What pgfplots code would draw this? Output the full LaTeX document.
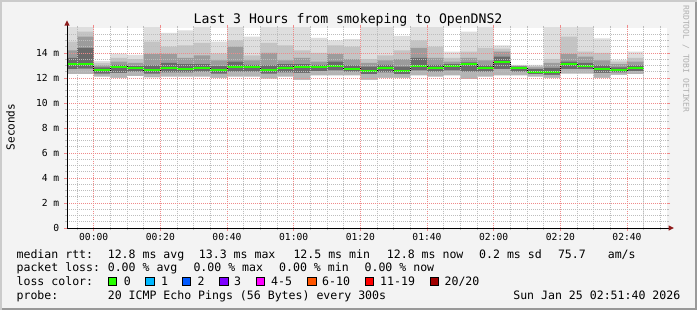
\documentclass[border=0pt]{standalone}
\usepackage{fontspec}
\usepackage{pgfplots}
\pgfplotsset{compat=1.18}
\usepackage{pgfplotstable}
\newfontfamily\mono{DejaVu Sans Mono}
\definecolor{canvas}{HTML}{F3F3F3}
\definecolor{shadeA}{HTML}{CBCBCB}
\definecolor{shadeB}{HTML}{999999}
\definecolor{arrowc}{HTML}{8E1B1B}
\definecolor{mgrid}{HTML}{F08A8A}
\definecolor{ngrid}{HTML}{BDBDBD}
\definecolor{sA}{HTML}{DEDEDE}
\definecolor{sB}{HTML}{C4C4C4}
\definecolor{sC}{HTML}{9C9C9C}
\definecolor{sD}{HTML}{6A6A6A}
\definecolor{sE}{HTML}{B4B4B4}
\definecolor{l0}{HTML}{26FF00}
\definecolor{l1}{HTML}{00B8FF}
\definecolor{l2}{HTML}{0059FF}
\definecolor{l3}{HTML}{7E00FF}
\definecolor{l4}{HTML}{FF00FF}
\definecolor{l6}{HTML}{FF5500}
\definecolor{l11}{HTML}{FF0000}
\definecolor{l20}{HTML}{A00000}
\definecolor{wm}{HTML}{B0B0B0}

\pgfplotstableread{
x    min   lo    med   hi0   hi1   hi2   max
-8   12.30 12.70 13.15 13.60 14.20 14.90 16.5
-5   12.30 12.75 13.15 14.40 15.30 15.70 16.5
0    12.10 12.35 12.64 12.85 13.00 13.20 13.35
5    12.00 12.40 12.90 13.05 13.30 13.60 13.95
10   12.15 12.50 12.82 12.95 13.20 13.50 13.85
15   12.05 12.35 12.64 13.00 13.90 14.90 16.5
20   12.10 12.45 12.77 13.20 13.90 14.50 15.60
25   12.10 12.45 12.75 13.10 13.60 14.60 15.80
30   12.10 12.50 12.80 13.10 13.80 14.80 16.5
35   12.00 12.35 12.67 12.95 13.40 13.95 14.90
40   12.10 12.50 12.88 13.30 14.50 15.00 16.5
45   12.10 12.50 12.88 13.05 13.40 13.80 15.30
50   11.95 12.35 12.65 13.00 14.00 14.80 16.5
55   12.10 12.45 12.80 13.10 13.40 14.60 16.5
60   11.85 12.40 12.90 13.10 13.60 14.20 16.5
65   12.20 12.55 12.90 13.05 13.30 14.00 15.20
70   12.20 12.60 12.96 13.30 13.90 14.60 15.00
75   12.20 12.50 12.75 13.00 13.50 14.50 15.10
80   11.85 12.30 12.59 12.90 13.20 13.50 16.5
85   12.00 12.45 12.80 13.05 13.40 13.80 16.5
90   12.00 12.30 12.59 12.90 13.50 14.20 15.36
95   12.20 12.60 12.96 13.60 14.40 15.00 16.5
100  12.10 12.50 12.80 13.05 13.60 14.50 16.5
105  12.20 12.60 12.96 13.10 13.30 13.60 14.10
110  11.90 12.50 13.09 13.25 13.60 14.10 15.70
115  12.10 12.50 12.82 13.00 13.40 14.40 16.5
120  12.20 12.70 13.30 13.70 14.10 14.35 14.60
125  12.20 12.50 12.82 12.90 12.95 13.00 13.05
130  12.10 12.30 12.50 12.70 12.85 12.95 13.05
135  12.00 12.25 12.48 12.80 13.20 13.50 16.5
140  12.35 12.70 13.10 13.30 13.90 15.30 16.5
145  12.35 12.70 12.99 13.20 13.70 14.10 16.5
150  12.00 12.40 12.75 13.00 13.40 14.00 15.17
155  12.25 12.45 12.64 12.85 13.10 13.30 13.44
160  12.30 12.55 12.82 13.00 13.30 13.60 14.10
165  12.30 12.55 12.82 13.00 13.30 13.60 14.10
}\smoke

\begin{document}
\begin{tikzpicture}[x=1bp,y=1bp]
% canvas and border
\fill[canvas] (0,0) rectangle (697,310);
\fill[shadeA] (0,0) rectangle (2,310);
\fill[shadeA] (0,308) rectangle (697,310);
\fill[shadeB] (695,0) rectangle (697,308);
\fill[shadeB] (2,0) rectangle (697,2);

\begin{axis}[
  at={(67bp,82bp)}, anchor=south west,
  scale only axis, width=600bp, height=200bp,
  xmin=-8, xmax=172, ymin=0, ymax=16,
  axis background/.style={fill=white},
  axis line style={draw=none},
  axis on top,
  xtick={0,20,...,160},
  xticklabels={00:00,00:20,00:40,01:00,01:20,01:40,02:00,02:20,02:40},
  minor xtick={-5,5,10,15,25,30,35,45,50,55,65,70,75,85,90,95,105,110,115,125,130,135,145,150,155,165,170},
  ytick={0,2,...,14},
  yticklabels={0,2 m,4 m,6 m,8 m,10 m,12 m,14 m},
  minor ytick={0.5,1,1.5,2.5,3,3.5,4.5,5,5.5,6.5,7,7.5,8.5,9,9.5,10.5,11,11.5,12.5,13,13.5,14.5,15,15.5},
  grid=both,
  major grid style={draw=mgrid, line width=0.7bp, dash pattern=on 1bp off 1bp},
  minor grid style={draw=ngrid, line width=0.7bp, dash pattern=on 1bp off 1bp},
  tick align=outside,
  major tick length=3bp, minor tick length=2bp,
  major tick style={draw=mgrid, line width=0.8bp},
  minor tick style={draw=ngrid, line width=0.8bp},
  ticklabel style={font=\mono\fontsize{9.7}{11}\selectfont, text=black},
  xticklabel style={anchor=north, inner sep=0pt, yshift=-2.5bp},
  yticklabel style={anchor=east, inner sep=0pt, xshift=-4.5bp},
]
\addplot[const plot, fill=sA, draw=none] table[x=x,y=max] {\smoke} \closedcycle;
\addplot[const plot, fill=sB, draw=none] table[x=x,y=hi2] {\smoke} \closedcycle;
\addplot[const plot, fill=sC, draw=none] table[x=x,y=hi1] {\smoke} \closedcycle;
\addplot[const plot, fill=sD, draw=none] table[x=x,y=hi0] {\smoke} \closedcycle;
\addplot[const plot, fill=sE, draw=none] table[x=x,y=lo] {\smoke} \closedcycle;
\addplot[const plot, fill=white, draw=none] table[x=x,y=min] {\smoke} \closedcycle;
\addplot[const plot, draw=black, line width=0.8bp] table[x=x,y=med] {\smoke};
\addplot[jump mark left, draw=l0, line width=2bp] table[x=x,y=med] {\smoke};
\end{axis}

% axes lines and arrows
\draw[black, line width=1bp] (67,82) -- (669,82);
\draw[black, line width=1bp] (67,82) -- (67,285);
\fill[arrowc] (67,289.5) -- (64.3,284.3) -- (69.7,284.3) -- cycle;
\fill[arrowc] (673.8,82) -- (668.6,79.3) -- (668.6,84.7) -- cycle;

% title
\node[anchor=base, inner sep=0pt, font=\mono\fontsize{13.2}{15}\selectfont] at (348,286.7) {Last 3 Hours from smokeping to OpenDNS2};
% unit label
\node[rotate=90, inner sep=0pt, font=\mono\fontsize{11.1}{13}\selectfont] at (10.5,183) {Seconds};
% watermark
\node[rotate=-90, inner sep=0pt, text=wm, font=\mono\fontsize{8.1}{9}\selectfont] at (686,251) {RRDTOOL / TOBI OETIKER};

% legend
\begin{scope}[every node/.style={anchor=base west, inner sep=0pt, font=\mono\fontsize{11.6}{13}\selectfont}]
\node at (16.4,52) {median rtt:};
\node at (107.6,52) {12.8 ms avg};
\node at (198.7,52) {13.3 ms max};
\node at (293.3,52) {12.5 ms min};
\node at (386.7,52) {12.8 ms now};
\node at (479,52) {0.2 ms sd};
\node at (557.8,52) {75.7};
\node at (607.6,52) {am/s};

\node at (16.4,38.3) {packet loss:};
\node at (107.6,38.3) {0.00 \% avg};
\node at (193.3,38.3) {0.00 \% max};
\node at (279,38.3) {0.00 \% min};
\node at (364.4,38.3) {0.00 \% now};

\node at (16.4,24.6) {loss color:};
\node at (123.6,24.6) {0};
\node at (160.9,24.6) {1};
\node at (197.3,24.6) {2};
\node at (234,24.6) {3};
\node at (271,24.6) {4-5};
\node at (322,24.6) {6-10};
\node at (380,24.6) {11-19};
\node at (444.4,24.6) {20/20};

\node at (16.4,11) {probe:};
\node at (107.6,11) {20 ICMP Echo Pings (56 Bytes) every 300s};
\node[anchor=base east] at (680.5,11) {Sun Jan 25 02:51:40 2026};
\end{scope}
\foreach \xx/\cc in {108/l0,145.8/l1,182.2/l2,219.6/l3,256.4/l4,307.6/l6,365.3/l11,430.2/l20}{
  \filldraw[fill=\cc, draw=black, line width=0.8bp] (\xx,24.4) rectangle ++(8.3,8.0);
}
\end{tikzpicture}
\end{document}
